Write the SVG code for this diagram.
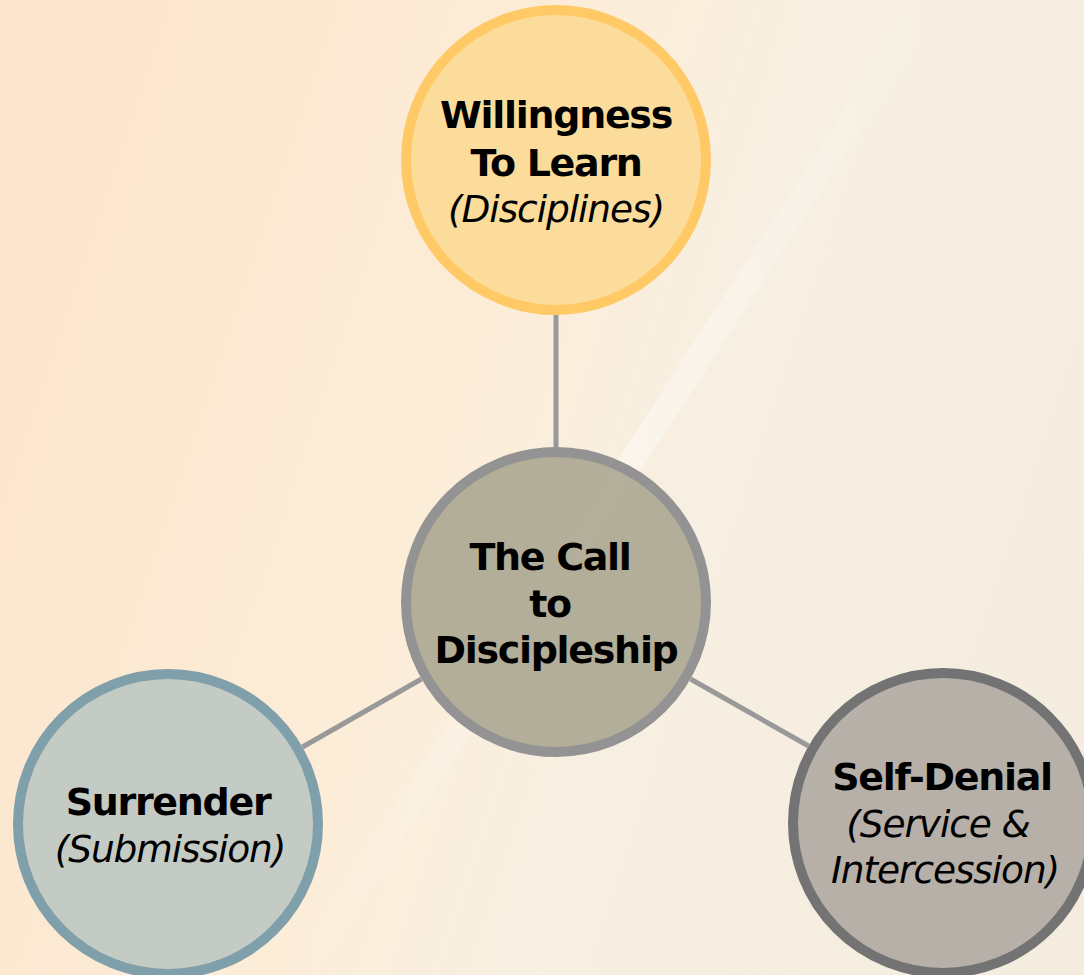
<svg xmlns="http://www.w3.org/2000/svg" width="1084" height="975" viewBox="0 0 1084 975">
<defs>
<linearGradient id="bg" x1="0" y1="0.35" x2="1" y2="0.65">
<stop offset="0" stop-color="#FCE5CC"/>
<stop offset="0.4" stop-color="#FCEDD8"/>
<stop offset="0.62" stop-color="#F7EFE2"/>
<stop offset="1" stop-color="#F4ECDF"/>
</linearGradient>
<linearGradient id="streak" x1="0" y1="0" x2="1" y2="0">
<stop offset="0" stop-color="#FFFFFF" stop-opacity="0"/>
<stop offset="0.5" stop-color="#FFFFFF" stop-opacity="0.4"/>
<stop offset="1" stop-color="#FFFFFF" stop-opacity="0"/>
</linearGradient>
<style>
.node circle{stroke-width:10}
.b{font-family:"DejaVu Sans","Liberation Sans",sans-serif;font-weight:bold;font-size:38px;letter-spacing:-1.3px;fill:#000;text-anchor:middle}
.i{font-family:"DejaVu Sans","Liberation Sans",sans-serif;font-style:italic;font-size:37.5px;letter-spacing:-1.1px;fill:#000;text-anchor:middle}
.conn line{stroke:#999999;stroke-width:5}
</style>
</defs>
<rect width="1084" height="975" fill="url(#bg)"/>
<polygon points="915,0 945,0 315,975 285,975" fill="url(#streak)"/>
<g id="connectors" class="conn">
<line x1="556" y1="314" x2="556" y2="448"/>
<line x1="421.5" y1="679" x2="302.5" y2="747"/>
<line x1="690.5" y1="679" x2="808.5" y2="746"/>
</g>
<g id="node-top" class="node">
<circle cx="556" cy="160" r="150" fill="#FCDA96" fill-opacity="0.92" stroke="#FFC966"/>
<text class="b" x="556" y="128">Willingness</text>
<text class="b" x="556" y="176">To Learn</text>
<text class="i" x="556" y="222">(Disciplines)</text>
</g>
<g id="node-center" class="node">
<circle cx="556" cy="602" r="150" fill="#ACA893" fill-opacity="0.92" stroke="#939393"/>
<text class="b" x="550" y="570">The Call</text>
<text class="b" x="550" y="617">to</text>
<text class="b" x="556" y="663">Discipleship</text>
</g>
<g id="node-left" class="node">
<circle cx="168" cy="824" r="150" fill="#BFC7C2" fill-opacity="0.92" stroke="#7F9FAA"/>
<text class="b" x="168" y="815">Surrender</text>
<text class="i" x="170" y="862">(Submission)</text>
</g>
<g id="node-right" class="node">
<circle cx="943" cy="823" r="150" fill="#B2ADA5" fill-opacity="0.95" stroke="#737373"/>
<text class="b" x="942" y="790">Self-Denial</text>
<text class="i" x="938" y="837">(Service &amp;</text>
<text class="i" x="945" y="883">Intercession)</text>
</g>
</svg>
